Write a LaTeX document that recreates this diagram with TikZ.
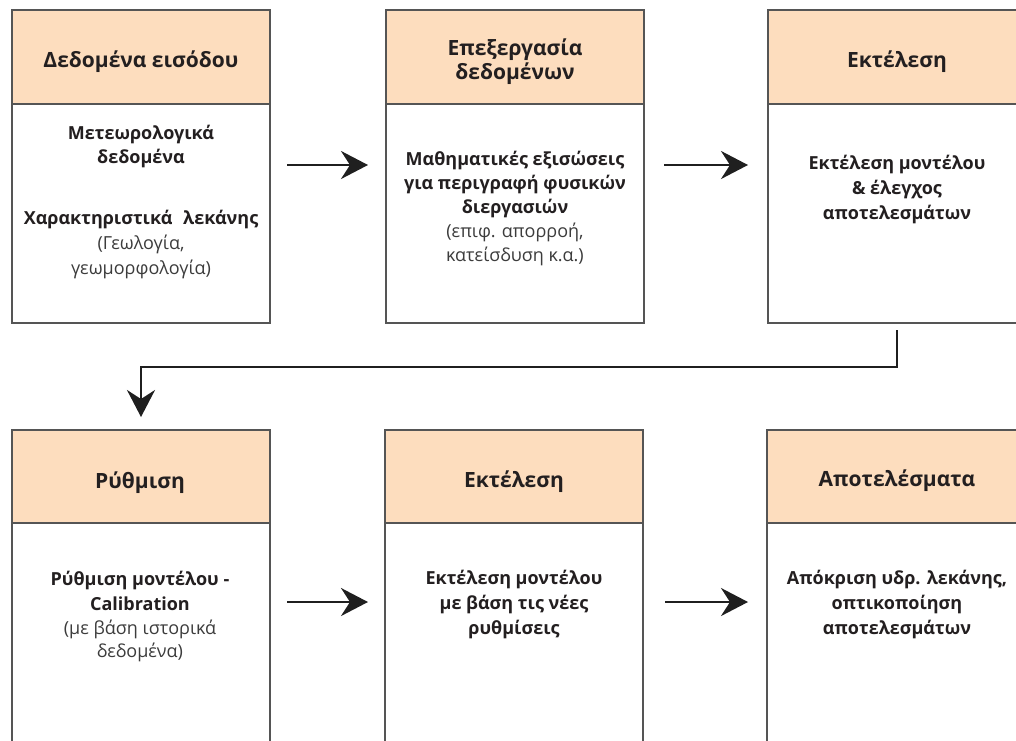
\documentclass[tikz,border=0pt]{standalone}
\usepackage{fontspec}
\setmainfont{Open Sans}
\usetikzlibrary{arrows.meta,calc}
\definecolor{peach}{RGB}{253,221,190}
\definecolor{boxgray}{RGB}{85,85,85}
\definecolor{txt}{RGB}{35,31,32}
\definecolor{paren}{RGB}{60,60,60}
\newcommand{\pr}[1]{{\mdseries\color{paren}#1}}
\begin{document}
\begin{tikzpicture}[x=1pt,y=-1pt,
 hdr/.style={draw=boxgray, line width=1.3pt, fill=peach, minimum width=258pt, minimum height=94pt, inner sep=0pt, outer sep=0pt, anchor=north west},
 htxt/.style={align=center, font=\fontsize{21}{23.5}\selectfont\bfseries, text=txt, inner sep=0pt},
 bodybox/.style={draw=boxgray, line width=1.3pt, fill=white, minimum width=258pt, inner sep=0pt, outer sep=0pt, anchor=north west},
 btxt/.style={align=center, anchor=north, font=\fontsize{18}{24.5}\selectfont\bfseries, text=txt, inner sep=0pt},
 arr/.style={line width=2.6pt, draw=black!88, -{Stealth[length=27pt,width=28pt,inset=9pt]}},
]
\useasboundingbox (0,0) rectangle (1016,740);
\clip (0,0) rectangle (1016,740);
% top row
\node[bodybox, minimum height=219pt] (b1body) at (12,104) {};
\node[hdr] (b1head) at (12,10) {};
\node[bodybox, minimum height=219pt] (b2body) at (386,104) {};
\node[hdr] (b2head) at (386,10) {};
\node[bodybox, minimum height=219pt] (b3body) at (768,104) {};
\node[hdr] (b3head) at (768,10) {};
% bottom row
\node[bodybox, minimum height=260pt] (b4body) at (12,523) {};
\node[hdr, minimum height=93pt] (b4head) at (12,430) {};
\node[bodybox, minimum height=260pt] (b5body) at (385,523) {};
\node[hdr, minimum height=93pt] (b5head) at (385,430) {};
\node[bodybox, minimum height=260pt] (b6body) at (767,523) {};
\node[hdr, minimum height=93pt] (b6head) at (767,430) {};
% header texts
\node[htxt, anchor=base] (h1) at (141,67) {Δεδομένα εισόδου};
\node[htxt, anchor=north] (h2) at (515,39) {Επεξεργασία\\δεδομένων};
\node[htxt, anchor=base] (h3) at (897,67) {Εκτέλεση};
\node[htxt, anchor=base] (h4) at (140,488) {Ρύθμιση};
\node[htxt, anchor=base] (h5) at (514,487) {Εκτέλεση};
\node[htxt, anchor=base] (h6) at (897,486) {Αποτελέσματα};
% body texts
\node[btxt] (t1) at (141,124.5) {Μετεωρολογικά\\δεδομένα\\[36pt]Χαρακτηριστικά\hspace{6pt} λεκάνης\\[1pt]\pr{(Γεωλογία,}\\\pr{γεωμορφολογία)}};
\node[btxt, font=\fontsize{18}{24}\selectfont\bfseries] (t2) at (515,151) {Μαθηματικές εξισώσεις\\για περιγραφή φυσικών\\διεργασιών\\\pr{(επιφ. απορροή,}\\\pr{κατείσδυση κ.α.)}};
\node[btxt, font=\fontsize{18}{25}\selectfont\bfseries] (t3) at (897,154.5) {Εκτέλεση μοντέλου\\\&\ έλεγχος\\αποτελεσμάτων};
\node[btxt] (t4) at (140,571) {Ρύθμιση μοντέλου -\\Calibration\\\pr{(με βάση ιστορικά}\\[-2pt]\pr{δεδομένα)}};
\node[btxt, font=\fontsize{18}{25}\selectfont\bfseries] (t5) at (514,569.5) {Εκτέλεση μοντέλου\\με βάση τις νέες\\ρυθμίσεις};
\node[btxt, font=\fontsize{18}{25}\selectfont\bfseries] (t6) at (897,569.5) {Απόκριση υδρ. λεκάνης,\\οπτικοποίηση\\αποτελεσμάτων};
% arrows
\draw[arr, shorten <=17pt, shorten >=18pt] ([yshift=-61pt]b1body.north east) -- ([yshift=-61pt]b2body.north west);
\draw[arr, shorten <=20pt, shorten >=20pt] ([yshift=-61pt]b2body.north east) -- ([yshift=-61pt]b3body.north west);
\draw[arr, shorten <=17pt, shorten >=17pt] ([yshift=-79pt]b4body.north east) -- ([yshift=-79pt]b5body.north west);
\draw[arr, shorten <=22pt, shorten >=19pt] ([yshift=-79pt]b5body.north east) -- ([yshift=-79pt]b6body.north west);
\coordinate (elb) at (897,367);
\draw[arr] ([yshift=-7pt]b3body.south) -- (elb) -| ([yshift=13pt]b4head.north);
\end{tikzpicture}
\end{document}
